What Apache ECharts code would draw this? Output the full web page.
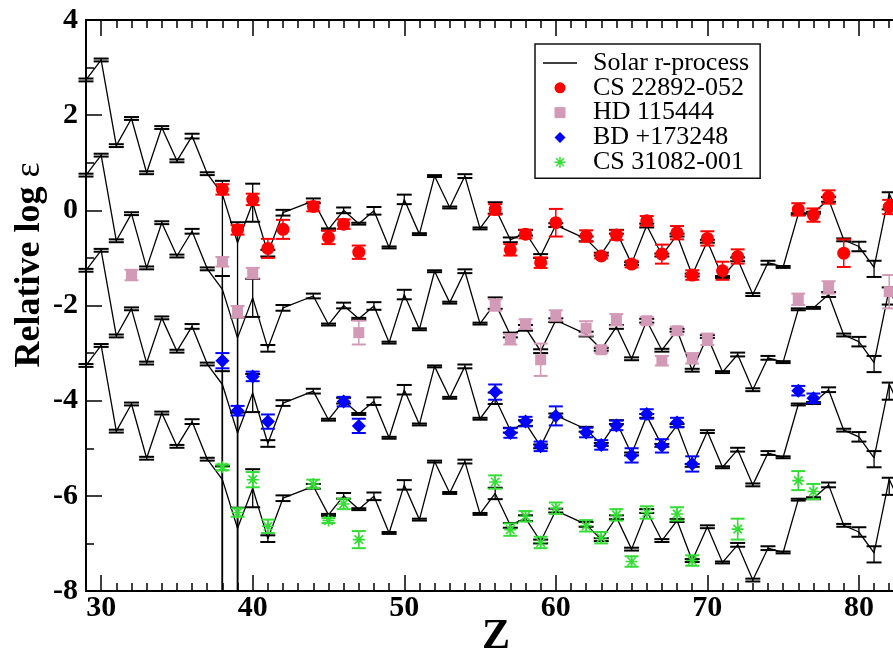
<!DOCTYPE html>
<html><head><meta charset="utf-8">
<script src="https://cdn.jsdelivr.net/npm/echarts@6/dist/echarts.min.js"></script>
<style>html,body{margin:0;padding:0;background:#fff;overflow:hidden}#chart{width:893px;height:658px}</style>
</head><body><div id="chart"></div>
<script>
// ---- Data ----
const SOLAR_Z = [29,30,31,32,33,34,35,36,37,38,39,40,41,42,43,44,45,46,47,48,49,50,51,52,53,54,55,56,57,58,59,60,61,62,63,64,65,66,67,68,69,70,71,72,73,74,75,76,77,78,79,80,81,82,83];
const SOLAR_V = [2.74,3.16,1.36,1.93,0.79,1.74,1.04,1.56,0.77,0.34,-0.68,0.16,-0.90,-0.05,null,0.20,-0.40,0.00,-0.28,-0.01,-0.78,0.23,-0.50,0.72,0.06,0.72,-0.38,0.05,-0.62,-0.47,-0.96,-0.31,null,-0.60,-0.92,-0.45,-1.12,-0.32,-0.94,-0.52,-1.36,-0.65,-1.40,-1.03,-1.77,-1.10,-1.19,-0.08,-0.05,0.23,-0.62,-0.76,-1.20,0.35,-0.36];
const SOLAR_ERR_HI = [0.03,0.03,0.03,0.03,0.03,0.03,0.03,0.05,0.03,0.28,0.43,0.40,0.07,0.06,null,0.05,0.02,0.06,0.02,0.08,0.02,0.10,0.02,0.02,0.02,0.04,0.02,0.12,0.05,0.06,0.04,0.04,null,0.05,0.03,0.04,0.03,0.04,0.03,0.03,0.03,0.03,0.02,0.04,0.03,0.04,0.02,0.02,0.02,0.05,0.03,0.10,0.14,0.03,0.05];
const SOLAR_ERR_LO = [0.03,0.03,0.03,0.03,0.03,0.03,0.03,0.05,0.03,20,20,0.40,0.07,0.06,null,0.05,0.02,0.06,0.02,0.08,0.02,0.10,0.02,0.02,0.02,0.04,0.02,0.12,0.05,0.06,0.04,0.04,null,0.05,0.03,0.04,0.03,0.04,0.03,0.03,0.03,0.03,0.02,0.04,0.03,0.04,0.02,0.02,0.02,0.05,0.03,0.10,0.20,0.33,0.05];
const CURVE_OFFSETS = [0,-2,-4,-6];

const CS22892_Z = [38,39,40,41,42,44,45,46,47,56,57,58,59,60,62,63,64,65,66,67,68,69,70,71,72,76,77,78,79,82];
const CS22892_V = [0.44,-0.41,0.23,-0.80,-0.40,0.08,-0.57,-0.29,-0.88,0.02,-0.83,-0.50,-1.10,-0.26,-0.54,-0.96,-0.52,-1.13,-0.22,-0.92,-0.47,-1.36,-0.59,-1.27,-0.97,0.02,-0.10,0.28,-0.90,0.07];
const CS22892_E = [0.11,0.10,0.12,0.20,0.20,0.10,0.14,0.10,0.14,0.11,0.12,0.09,0.11,0.29,0.12,0.05,0.10,0.07,0.10,0.20,0.14,0.10,0.15,0.19,0.15,0.13,0.14,0.14,0.29,0.15];

const HD115444_Z = [32,38,39,40,47,56,57,58,59,60,62,63,64,66,67,68,69,70,76,78,82];
const HD115444_V = [-1.36,-1.08,-2.13,-1.32,-2.57,-1.99,-2.71,-2.39,-3.14,-2.21,-2.48,-2.93,-2.30,-2.32,-3.16,-2.53,-3.11,-2.71,-1.87,-1.62,-1.71];
const HD115444_E = [0.11,0.10,0.12,0.11,0.25,0.12,0.11,0.10,0.34,0.11,0.15,0.07,0.12,0.08,0.10,0.08,0.11,0.12,0.12,0.13,0.35];

const BD173248_Z = [38,39,40,41,46,47,56,57,58,59,60,62,63,64,65,66,67,68,69,76,77];
const BD173248_V = [-3.16,-4.21,-3.49,-4.44,-4.02,-4.53,-3.82,-4.68,-4.44,-4.96,-4.32,-4.67,-4.93,-4.52,-5.15,-4.28,-4.95,-4.46,-5.33,-3.79,-3.95];
const BD173248_E = [0.16,0.10,0.10,0.15,0.10,0.15,0.16,0.10,0.10,0.10,0.20,0.10,0.10,0.10,0.15,0.10,0.14,0.10,0.16,0.10,0.10];

const CS31082_Z = [38,39,40,41,44,45,46,47,56,57,58,59,60,62,63,64,65,66,68,69,72,76,77];
const CS31082_V = [-5.40,-6.35,-5.66,-6.64,-5.75,-6.52,-6.17,-6.92,-5.71,-6.71,-6.43,-6.98,-6.26,-6.63,-6.88,-6.40,-7.38,-6.35,-6.38,-7.36,-6.70,-5.68,-5.91];
const CS31082_E = [0.06,0.09,0.16,0.14,0.09,0.05,0.11,0.18,0.14,0.13,0.11,0.12,0.12,0.12,0.12,0.12,0.11,0.13,0.14,0.11,0.22,0.20,0.16];

const X_MAJOR_TICKS = [30,40,50,60,70,80];
const X_MINOR_TICKS = [29,30,31,32,33,34,35,36,37,38,39,40,41,42,43,44,45,46,47,48,49,50,51,52,53,54,55,56,57,58,59,60,61,62,63,64,65,66,67,68,69,70,71,72,73,74,75,76,77,78,79,80,81,82];

const STARS = [
  {name:'CS 22892-052', z:CS22892_Z, v:CS22892_V, e:CS22892_E},
  {name:'HD 115444', z:HD115444_Z, v:HD115444_V, e:HD115444_E},
  {name:'BD +173248', z:BD173248_Z, v:BD173248_V, e:BD173248_E},
  {name:'CS 31082-001', z:CS31082_Z, v:CS31082_V, e:CS31082_E}
];
// ---- Styling ----
const COLORS = ['#ff0000','#d29ab6','#0000ff','#33dd33'];
const ASTERISK = 'path://M8.7,0L11.3,0L11.3,20L8.7,20Z M0,8.7L20,8.7L20,11.3L0,11.3Z M3.9,2.0L18.0,16.1L16.1,18.0L2.0,3.9Z M18.0,3.9L3.9,18.0L2.0,16.1L16.1,2.0Z';
const SQUARE = 'path://M0,0L20,0L20,20L0,20Z';
const DIAMOND = 'path://M10,0L20,10L10,20L0,10Z';
const CIRCLE = 'circle';
const LINE_ICON = 'path://M0,0L34,0L34,1.4L0,1.4Z';
const SYMBOLS = [CIRCLE, SQUARE, DIAMOND, ASTERISK];
const SIZES = [13,11,14,12];
const FONT = 'Liberation Serif';

function errRender(color, capW, lw){
  return function(params, api){
    const x = api.value(0), y = api.value(1), lo = api.value(2), hi = api.value(3);
    const cs = params.coordSys;
    const p1 = api.coord([x, y + hi]), p2 = api.coord([x, y - lo]);
    const yt = cs.y, yb = cs.y + cs.height;
    const topY = Math.max(p1[1], yt), botY = Math.min(p2[1], yb);
    const ch = [{type:'line', shape:{x1:p1[0], y1:topY, x2:p1[0], y2:botY}, style:{stroke:color, lineWidth:lw}}];
    if (p1[1] >= yt) ch.push({type:'line', shape:{x1:p1[0]-capW, y1:p1[1], x2:p1[0]+capW, y2:p1[1]}, style:{stroke:color, lineWidth:2}});
    if (p2[1] <= yb) ch.push({type:'line', shape:{x1:p2[0]-capW, y1:p2[1], x2:p2[0]+capW, y2:p2[1]}, style:{stroke:color, lineWidth:2}});
    return {type:'group', children:ch};
  };
}

const series = [];
CURVE_OFFSETS.forEach(function(off, k){
  const lineData = [], errData = [];
  SOLAR_Z.forEach(function(z, i){
    if (SOLAR_V[i] === null) return;
    lineData.push([z, SOLAR_V[i] + off]);
    errData.push([z, SOLAR_V[i] + off, SOLAR_ERR_LO[i], SOLAR_ERR_HI[i]]);
  });
  series.push({name:'Solar r-process', type:'line', data:lineData, symbol:'none', showSymbol:false, connectNulls:true,
    lineStyle:{color:'#000', width:1.3}, itemStyle:{color:'#000'}, z:2, silent:true, animation:false});
  series.push({name:'solar-err-'+k, type:'custom', data:errData, encode:{x:0, y:1}, z:2, silent:true,
    renderItem: errRender('#000', 7.5, 1.3), animation:false});
});
STARS.forEach(function(s, k){
  const pts = s.z.map(function(z, i){ return [z, s.v[i]]; });
  const err = s.z.map(function(z, i){ return [z, s.v[i], s.e[i], s.e[i]]; });
  series.push({name:s.name+'-err', type:'custom', data:err, encode:{x:0, y:1}, z:3, silent:true,
    renderItem: errRender(COLORS[k], 7, 1.5), animation:false});
  series.push({name:s.name, type:'scatter', data:pts, symbol:SYMBOLS[k], symbolSize:SIZES[k], symbolKeepAspect:true,
    itemStyle:{color:COLORS[k], opacity:1}, z:4, animation:false});
});

const xBase = {type:'value', min:29, max:82.25, splitLine:{show:false},
  axisLine:{show:true, onZero:false, lineStyle:{color:'#000', width:2}}};
const labelStyle = {color:'#000', fontFamily:FONT, fontWeight:'bold', fontSize:30};

const option = {
  animation:false,
  backgroundColor:'#fff',
  grid:{left:86, right:0, top:20, bottom:67, containLabel:false},
  xAxis:[
    Object.assign({}, xBase, {position:'bottom',
      axisTick:{show:true, inside:true, length:16, lineStyle:{color:'#000', width:1.5}, customValues:X_MAJOR_TICKS},
      axisLabel:Object.assign({show:true, margin:2, customValues:X_MAJOR_TICKS}, labelStyle)}),
    Object.assign({}, xBase, {position:'bottom',
      axisTick:{show:true, inside:true, length:8, lineStyle:{color:'#000', width:1.5}, customValues:X_MINOR_TICKS},
      axisLabel:{show:false}}),
    Object.assign({}, xBase, {position:'top',
      axisTick:{show:true, inside:true, length:16, lineStyle:{color:'#000', width:1.5}, customValues:X_MAJOR_TICKS},
      axisLabel:{show:false}}),
    Object.assign({}, xBase, {position:'top',
      axisTick:{show:true, inside:true, length:8, lineStyle:{color:'#000', width:1.5}, customValues:X_MINOR_TICKS},
      axisLabel:{show:false}})
  ],
  yAxis:{type:'value', min:-8, max:4, interval:2, position:'left', splitLine:{show:false},
    axisLine:{show:true, onZero:false, lineStyle:{color:'#000', width:2}},
    axisTick:{show:true, inside:true, length:16, lineStyle:{color:'#000', width:1.5}},
    minorTick:{show:true, splitNumber:2, length:8, lineStyle:{color:'#000', width:1.5}},
    axisLabel:Object.assign({margin:8}, labelStyle)},
  legend:{
    orient:'vertical', left:535, top:44, padding:[6,11,3,8],
    backgroundColor:'#fff', borderColor:'#111', borderWidth:1.5, borderRadius:0,
    itemWidth:34, itemHeight:11, itemGap:-1.2, selectedMode:false, symbolKeepAspect:true,
    textStyle:{fontFamily:FONT, fontSize:26, color:'#000', padding:[0,0,0,11]},
    data:[
      {name:'Solar r-process', icon:LINE_ICON, itemStyle:{color:'#000'}},
      {name:'CS 22892-052', icon:CIRCLE},
      {name:'HD 115444', icon:SQUARE},
      {name:'BD +173248', icon:DIAMOND},
      {name:'CS 31082-001', icon:ASTERISK}
    ]
  },
  graphic:[
    {type:'text', x:496, y:637, z:10, style:{text:'Z', fontFamily:FONT, fontWeight:'bold', fontSize:42, fill:'#000', align:'center', verticalAlign:'middle', textAlign:'center', textVerticalAlign:'middle'}},
    {type:'text', x:30, y:265, rotation:Math.PI/2, z:10, style:{text:'{b|Relative log }{e|ε}', fill:'#000',
      align:'center', verticalAlign:'middle', textAlign:'center', textVerticalAlign:'middle',
      rich:{b:{fontFamily:FONT, fontWeight:'bold', fontSize:36, fill:'#000'}, e:{fontFamily:FONT, fontSize:36, fill:'#000'}}}}
  ],
  series:series
};
const chart = echarts.init(document.getElementById('chart'), null, {renderer:'canvas'});
chart.setOption(option);
</script></body></html>
